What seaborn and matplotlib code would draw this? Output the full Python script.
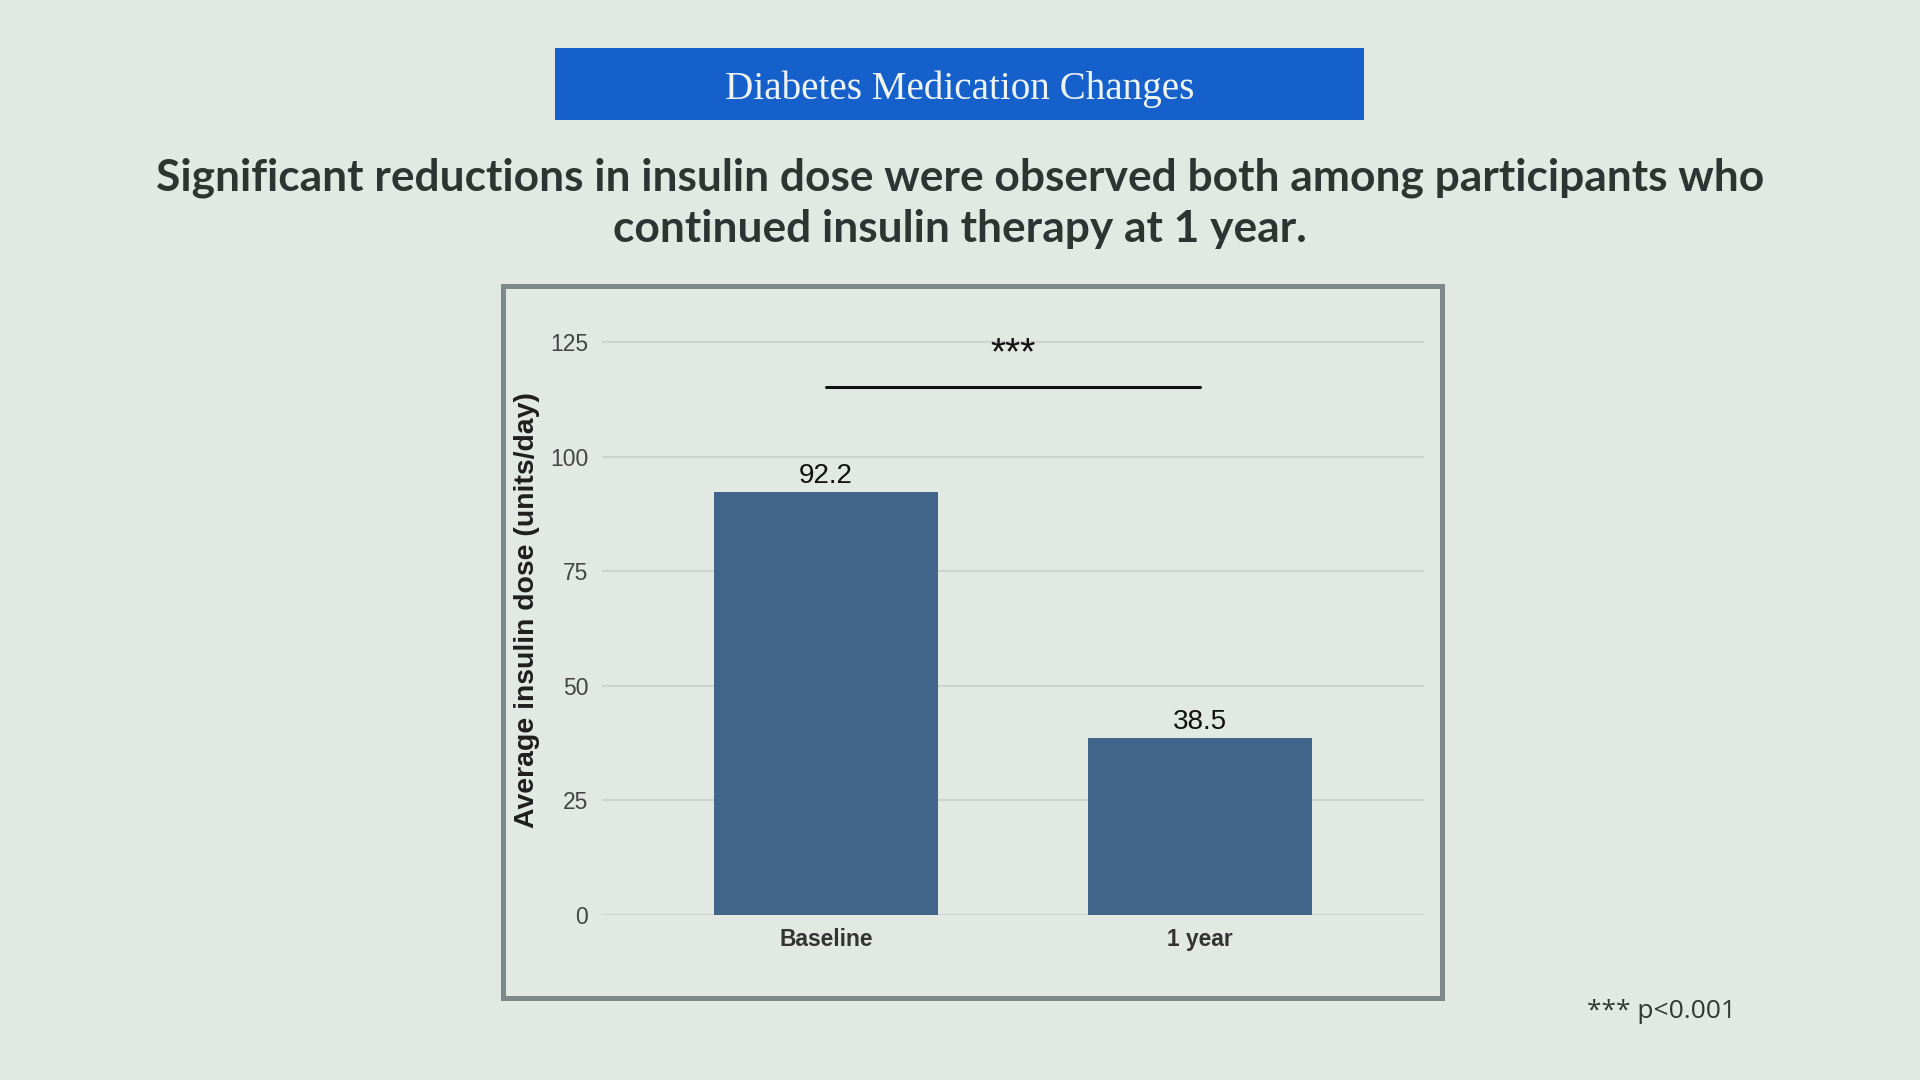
import matplotlib
matplotlib.use("Agg")
import matplotlib.pyplot as plt
import seaborn as sns
import pandas as pd
from matplotlib.patches import Rectangle

# ---- data ----
categories = ["Baseline", "1 year"]
insulin_dose = [92.2, 38.5]
y_ticks = [0, 25, 50, 75, 100, 125]
sig_label = "***"
sig_height = 115.2
title_text = "Diabetes Medication Changes"
subtitle_text = ("Significant reductions in insulin dose were observed both among participants who\n"
                 "continued insulin therapy at 1 year.")
footnote_text = "*** p<0.001"
y_label = "Average insulin dose (units/day)"

BG = "#E2E8E2"
BAR = "#41648A"

sns.set_theme(style="whitegrid")
plt.rcParams["font.family"] = ["Liberation Sans", "DejaVu Sans"]

fig = plt.figure(figsize=(19.2, 10.8), dpi=100, facecolor=BG)
W, H = 1920, 1080

def fx(px):
    return px / W

def fy(py):
    return 1 - py / H

# Banner
fig.patches.append(Rectangle((fx(555), fy(120)), fx(1364) - fx(555), fy(48) - fy(120),
                             transform=fig.transFigure, facecolor="#1560CB", edgecolor="none"))
fig.text(fx(960), fy(89), title_text, ha="center", va="center", fontsize=28.2,
         family=["Liberation Serif", "DejaVu Serif"], color="#EEF4F2")

# Subtitle
fig.text(fx(960), fy(203), subtitle_text, ha="center", va="center", fontsize=31.9,
         fontweight="bold", family=["Lato", "DejaVu Sans"], color="#2F3332",
         linespacing=1.32)

# Frame
fig.patches.append(Rectangle((fx(502.5), fy(997.5)), fx(1441.5) - fx(502.5), fy(286.5) - fy(997.5),
                             transform=fig.transFigure, facecolor="none", edgecolor="#7F898A",
                             linewidth=3.6, zorder=5))

# Footnote
fig.text(fx(1587), fy(1012), footnote_text, ha="left", va="center", fontsize=19,
         family=["Open Sans", "DejaVu Sans"], color="#333836")

# Axes
ax = fig.add_axes([fx(602), fy(915), fx(1424) - fx(602), fy(319) - fy(915)])
ax.set_facecolor(BG)
df = pd.DataFrame({"cat": categories, "dose": insulin_dose})
sns.barplot(data=df, x="cat", y="dose", color=BAR, width=0.6, saturation=1, ax=ax,
            zorder=3, linewidth=0)
ax.set_xlim(-0.6, 1.6)
ax.set_ylim(0, 130)
ax.set_yticks(y_ticks)
ax.grid(axis="y", color="#CDD3CF", linewidth=1.6, zorder=0)
ax.grid(axis="x", visible=False)
for s in ax.spines.values():
    s.set_visible(False)
ax.tick_params(axis="y", labelsize=16.5, labelcolor="#444444", length=0, pad=10)
ax.tick_params(axis="x", labelsize=16.4, labelcolor="#333333", length=0, pad=9.5)
for lbl in ax.get_xticklabels():
    lbl.set_fontweight("bold")
ax.set_xlabel("")
ax.set_ylabel(y_label, fontsize=20.4, fontweight="bold", color="#1E1E1E")
ax.yaxis.set_label_coords(-0.075, 0.512)

for c in ax.containers:
    ax.bar_label(c, labels=[f"{v:.1f}" for v in insulin_dose], padding=2.4, fontsize=20, color="#111111")

# significance bracket
ax.plot([0, 1], [sig_height, sig_height], color="#111111", linewidth=2.2, zorder=4)
ax.text(0.5, 120.1, sig_label, ha="center", va="baseline", fontsize=28, color="#111111")

fig.savefig("out.png", dpi=100, facecolor=BG)
